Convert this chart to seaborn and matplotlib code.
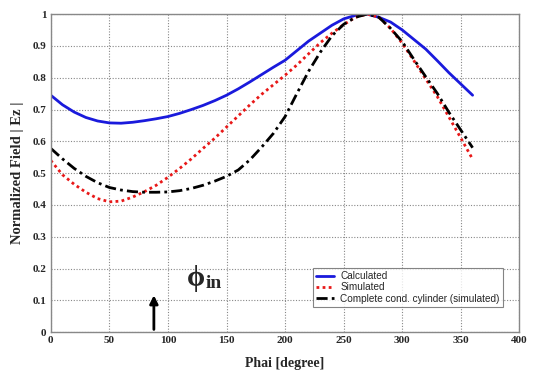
import numpy as np
import pandas as pd
import matplotlib.pyplot as plt
import seaborn as sns

# angle samples (degree)
phai = list(range(0, 361, 10))

calculated = [0.745, 0.715, 0.692, 0.675, 0.664, 0.658, 0.657, 0.660, 0.665, 0.671,
              0.678, 0.688, 0.700, 0.713, 0.728, 0.745, 0.765, 0.787, 0.810, 0.833,
              0.855, 0.885, 0.915, 0.940, 0.965, 0.985, 0.996, 1.000, 0.990, 0.975,
              0.950, 0.920, 0.890, 0.853, 0.815, 0.780, 0.745]

simulated = [0.540, 0.495, 0.465, 0.440, 0.420, 0.410, 0.412, 0.425, 0.442, 0.462,
             0.487, 0.515, 0.545, 0.578, 0.610, 0.645, 0.680, 0.715, 0.748, 0.778,
             0.808, 0.840, 0.875, 0.910, 0.940, 0.967, 0.990, 1.000, 0.990, 0.955,
             0.908, 0.853, 0.796, 0.740, 0.675, 0.610, 0.544]

cylinder = [0.578, 0.545, 0.515, 0.490, 0.470, 0.455, 0.447, 0.442, 0.440, 0.440,
            0.441, 0.445, 0.452, 0.462, 0.475, 0.490, 0.510, 0.542, 0.582, 0.625,
            0.678, 0.750, 0.820, 0.880, 0.932, 0.968, 0.990, 1.000, 0.990, 0.955,
            0.913, 0.857, 0.803, 0.750, 0.690, 0.635, 0.580]

df = pd.DataFrame({'phai': phai, 'calc': calculated, 'sim': simulated, 'cyl': cylinder})

sns.set_style('white')
plt.rcParams['font.family'] = ['Liberation Serif', 'DejaVu Serif']

fig = plt.figure(figsize=(5.4, 3.81), dpi=100)
ax = fig.add_axes([0.094, 0.128, 0.868, 0.835])

sns.lineplot(data=df, x='phai', y='calc', ax=ax, color='#1a1adc', lw=2.0,
             label='Calculated')
sns.lineplot(data=df, x='phai', y='sim', ax=ax, color='#e81818', lw=2.0,
             linestyle=(0, (1, 1.2)), label='Simulated')
sns.lineplot(data=df, x='phai', y='cyl', ax=ax, color='black', lw=2.0,
             linestyle=(0, (4, 1.5, 1, 1.5)), label='Complete cond. cylinder (simulated)')

ax.set_xlim(0, 400)
ax.set_ylim(0, 1)
ax.set_xticks(range(0, 401, 50))
ax.set_yticks(np.arange(0, 1.01, 0.1))
ax.set_yticklabels(['0', '0.1', '0.2', '0.3', '0.4', '0.5', '0.6', '0.7', '0.8', '0.9', '1'])
ax.grid(True, linestyle=(0, (1, 1.5)), color='#888888', lw=0.8)
ax.tick_params(direction='in', length=3, labelsize=8, pad=3)
for lab in ax.get_xticklabels() + ax.get_yticklabels():
    lab.set_fontweight('bold')
for s in ax.spines.values():
    s.set_color('#888888')
    s.set_linewidth(1.0)

ax.set_xlabel('Phai [degree]', fontsize=10, fontweight='bold', labelpad=8)
ax.set_ylabel('Normalized Field | Ez |', fontsize=10.5, fontweight='bold', labelpad=6)

# incidence arrow
ax.annotate('', xy=(88, 0.125), xytext=(88, 0.0),
            arrowprops=dict(arrowstyle='-|>', color='black', lw=2, mutation_scale=12))
ax.text(116, 0.17, 'ϕ', fontsize=21, va='center', ha='left', fontweight='bold')
ax.text(132, 0.128, 'in', fontsize=14, fontweight='bold', va='bottom', ha='left')

leg = ax.legend(loc='lower right', bbox_to_anchor=(0.975, 0.065), frameon=True,
                fancybox=False, prop={'family': 'Liberation Sans', 'size': 7.2},
                handlelength=1.8, borderpad=0.3, labelspacing=0.12, handletextpad=0.6)
leg.get_frame().set_edgecolor('#666666')
leg.get_frame().set_linewidth(0.8)

fig.savefig('out.png', dpi=100)
